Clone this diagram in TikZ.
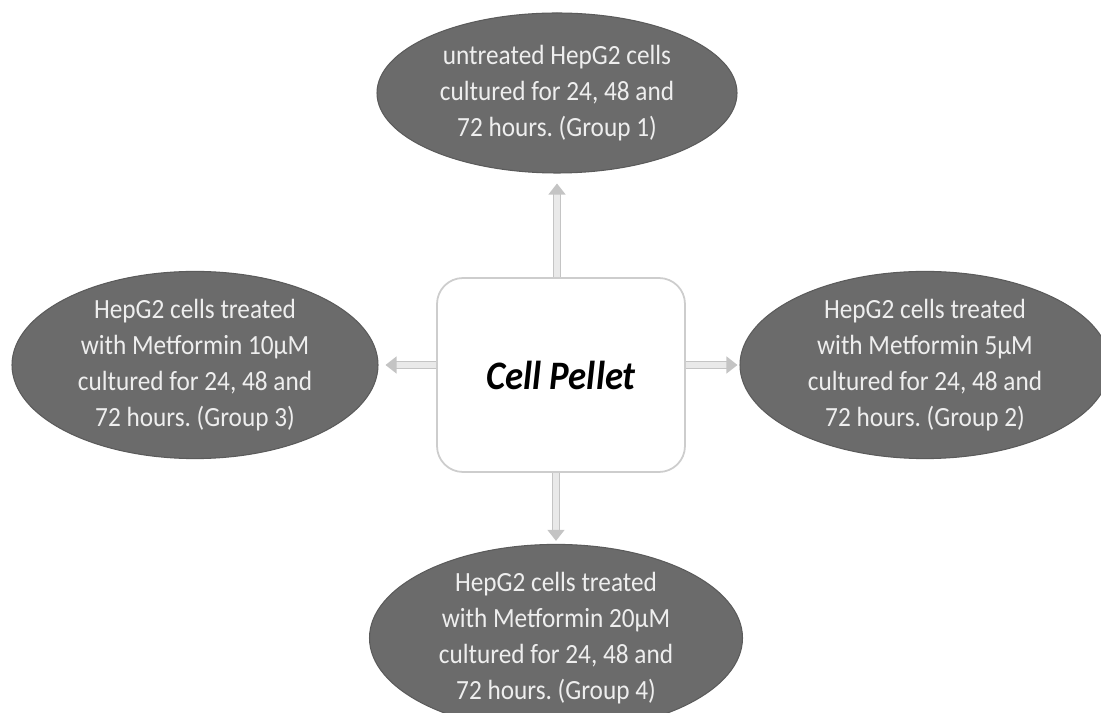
\documentclass[tikz,border=0pt]{standalone}
\usepackage{fontspec}
\setmainfont{Carlito}[FakeStretch=0.91]
\usepackage{tikz}
\usetikzlibrary{arrows.meta}
\usetikzlibrary{shapes.geometric}
\definecolor{grpfill}{HTML}{6B6B6B}
\definecolor{grptext}{HTML}{EEEEEE}
\definecolor{boxline}{HTML}{CDCDCD}
\definecolor{flowline}{HTML}{C4C4C4}
\definecolor{flowfill}{HTML}{E9E9E9}
\frenchspacing

\begin{document}
\begin{tikzpicture}[x=0.1mm,y=-0.1mm]
		\tikzstyle{group}=[ellipse,fill=grpfill,draw=grpfill!85!black,line width=0.3pt,
			text=grptext,align=center,inner sep=0pt,
			minimum width=36mm,minimum height=16mm,
			font=\fontsize{7.9}{10.3}\selectfont];
		\tikzstyle{pelletbox}=[rectangle,rounded corners=2.6mm,draw=boxline,line width=0.5pt,
			fill=white,minimum width=24.8mm,minimum height=19.4mm,
			font=\fontsize{11.5}{13}\selectfont\bfseries\itshape];
		\tikzstyle{flow}=[draw=flowline,double=flowfill,double distance=1.5pt,line width=0.35pt,
			-{Triangle[length=1.1mm,width=1.7mm]}];
		\useasboundingbox(0,0)rectangle(1101,713);
		\clip(0,0)rectangle(1101,713);

		\node[pelletbox](pellet)at(561,375){Cell Pellet};

		\node[group](g1)at(557,93){untreated HepG2 cells\\cultured for 24, 48 and\\72 hours. (Group 1)};
		\node[group,minimum width=37mm](g2)at(925,365){HepG2 cells treated\\with Metformin 5µM\\cultured for 24, 48 and\\72 hours. (Group 2)};
		\node[group,minimum width=36.6mm](g3)at(195,365){HepG2 cells treated\\with Metformin 10µM\\cultured for 24, 48 and\\72 hours. (Group 3)};
		\node[group,minimum width=37.3mm](g4)at(556,638){HepG2 cells treated\\with Metformin 20µM\\cultured for 24, 48 and\\72 hours. (Group 4)};

		\draw[flow,shorten >=1mm](pellet.north-|g1)--(g1.south);
		\draw[flow,shorten >=0.3mm](pellet.south-|g4)--(g4.north);
		\draw[flow,shorten >=0.7mm](pellet.west|-g3)--(g3.east);
		\draw[flow,shorten >=0.2mm](pellet.east|-g2)--(g2.west);
	\end{tikzpicture}
\end{document}
